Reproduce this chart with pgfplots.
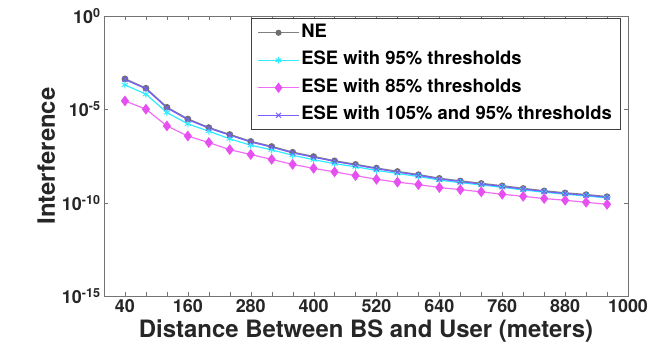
\documentclass[border=0pt]{standalone}
\usepackage{pgfplots}
\usepackage{pgfplotstable}
\pgfplotsset{compat=1.18}
\usepackage{fontspec}
\setmainfont{TeX Gyre Heros}

\definecolor{neGray}{RGB}{128,128,128}
\definecolor{neMark}{RGB}{110,110,110}
\definecolor{eseCyan}{RGB}{50,235,255}
\definecolor{eseMag}{RGB}{240,110,245}
\definecolor{eseMagMark}{RGB}{230,80,240}
\definecolor{esePurple}{RGB}{120,95,255}

% distance (m)  interference
\pgfplotstableread{
d    ne        ese95     ese85     ese105
40   4.27e-4   2.04e-4   2.82e-5   3.97e-4
80   1.35e-4   6.46e-5   1.02e-5   1.26e-4
120  1.29e-5   6.76e-6   1.29e-6   1.20e-5
160  3.02e-6   1.66e-6   3.72e-7   2.81e-6
200  1.05e-6   6.76e-7   1.66e-7   9.80e-7
240  4.47e-7   2.63e-7   6.92e-8   4.16e-7
280  1.91e-7   1.20e-7   3.80e-8   1.78e-7
320  1.02e-7   6.76e-8   2.09e-8   9.50e-8
360  5.01e-8   3.47e-8   1.12e-8   4.66e-8
400  2.95e-8   2.00e-8   6.92e-9   2.74e-8
440  1.74e-8   1.23e-8   4.47e-9   1.62e-8
480  1.12e-8   8.32e-9   2.82e-9   1.04e-8
520  7.08e-9   5.37e-9   1.78e-9   6.60e-9
560  4.68e-9   3.63e-9   1.26e-9   4.35e-9
600  3.16e-9   2.51e-9   9.33e-10  2.94e-9
640  2.00e-9   1.62e-9   6.46e-10  1.86e-9
680  1.45e-9   1.17e-9   5.01e-10  1.35e-9
720  1.07e-9   8.91e-10  3.80e-10  9.95e-10
760  7.94e-10  6.61e-10  2.82e-10  7.38e-10
800  5.75e-10  4.79e-10  2.19e-10  5.35e-10
840  4.27e-10  3.63e-10  1.66e-10  3.97e-10
880  3.31e-10  2.82e-10  1.35e-10  3.08e-10
920  2.69e-10  2.29e-10  1.05e-10  2.50e-10
960  2.09e-10  1.78e-10  8.13e-11  1.94e-10
}\interf

\begin{document}
\begin{tikzpicture}
\path[use as bounding box] (-104bp,-65bp) rectangle (552bp,296bp);
\begin{axis}[
  at={(0,0)}, anchor=south west,
  scale only axis, width=524bp, height=280bp,
  xmin=0, xmax=1000,
  ymode=log, ymin=1e-15, ymax=1,
  xtick={40,160,...,1000},
  minor xtick={80,120,...,960},
  ytick={1e-15,1e-10,1e-5,1},
  yticklabels={10\textsuperscript{-15},10\textsuperscript{-10},10\textsuperscript{-5},10\textsuperscript{0}},
  yminorticks=false,
  tick align=inside,
  major tick length=4bp, minor tick length=4bp,
  axis line style={black!55},
  tick style={black!55},
  /pgf/number format/assume math mode=true,
  /pgf/number format/1000 sep={},
  tick label style={font=\fontsize{18}{20}\selectfont\bfseries, black!85},
  xlabel={Distance Between BS and User (meters)},
  ylabel={Interference},
  label style={font=\fontsize{24}{26}\selectfont\bfseries, black!85},
  legend style={
    at={(rel axis cs:0.985,0.993)}, anchor=north east,
    draw=black!75, line width=0.6pt,
    font=\fontsize{18.5}{20}\selectfont\bfseries,
    nodes={inner sep=2bp, text height=13bp, text depth=4bp},
    row sep=6.5bp,
    inner xsep=6bp, inner ysep=4bp,
    cells={anchor=west},
  },
  legend image code/.code={
    \draw[line width=0.9pt, mark repeat=2, mark phase=2] plot coordinates {(0cm,0cm) (0.72cm,0cm) (1.44cm,0cm)};
  },
]
\addplot[neGray, line width=1.5pt, mark=*, mark size=2.6pt,
  mark options={fill=neMark, draw=neMark}] table[x=d, y=ne] {\interf};
\addlegendentry{NE}
\addplot[eseCyan, line width=1.2pt, mark=asterisk, mark size=3.5pt,
  mark options={line width=1pt}] table[x=d, y=ese95] {\interf};
\addlegendentry{ESE with 95\% thresholds}
\addplot[eseMag, line width=1.2pt, mark=diamond*, mark size=4.5pt,
  mark options={fill=eseMagMark, draw=eseMagMark}] table[x=d, y=ese85] {\interf};
\addlegendentry{ESE with 85\% thresholds}
\addplot[esePurple, line width=1.2pt, mark=x, mark size=3.5pt,
  mark options={line width=1pt}] table[x=d, y=ese105] {\interf};
\addlegendentry{ESE with 105\% and 95\% thresholds}
\end{axis}
\end{tikzpicture}
\end{document}
